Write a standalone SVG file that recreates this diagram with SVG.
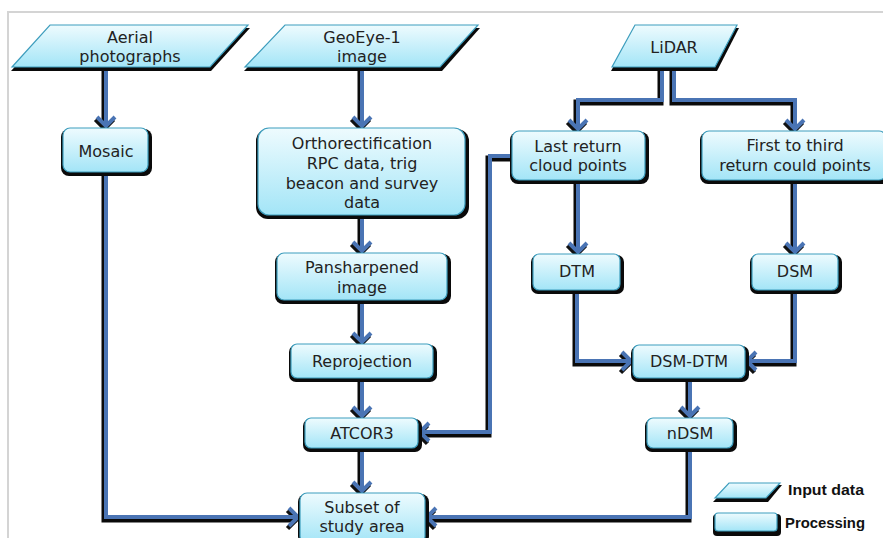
<svg xmlns="http://www.w3.org/2000/svg" width="883" height="538" viewBox="0 0 883 538">
<defs>
<linearGradient id="g" x1="0" y1="0" x2="0" y2="1">
<stop offset="0" stop-color="#eefbfe"/>
<stop offset="1" stop-color="#a3e5f7"/>
</linearGradient>
<marker id="ah" markerUnits="userSpaceOnUse" markerWidth="24" markerHeight="24" viewBox="-12 -12 24 24" refX="0" refY="0" orient="auto">
<path d="M-9,-9 L0,0 L-9,9" fill="none" stroke="#4a74b4" stroke-width="4" stroke-linejoin="miter"/>
</marker>
<marker id="ahs" markerUnits="userSpaceOnUse" markerWidth="24" markerHeight="24" viewBox="-12 -12 24 24" refX="0" refY="0" orient="auto">
<path d="M-9,-9 L0,0 L-9,9" fill="none" stroke="#111" stroke-width="4.5"/>
</marker>
</defs>
<style>
.sh{fill:#0a0a0a}
.nd{fill:url(#g);stroke:#3d9dbd;stroke-width:1.2}
text{font-family:"DejaVu Sans","Verdana",sans-serif;font-size:16px;fill:#222;text-anchor:middle}
.cs{fill:none;stroke:#0a0a0a;stroke-width:6;stroke-linejoin:miter}
.c{fill:none;stroke:#4a74b4;stroke-width:4;stroke-linejoin:miter}
.lg{font-family:"Liberation Sans",Arial,sans-serif;font-weight:bold;font-size:14px;text-anchor:start;fill:#111}
</style>
<rect x="0" y="0" width="883" height="538" fill="#fff"/>
<path d="M8,538 V12 H883" fill="none" stroke="#d4d4d4" stroke-width="2"/>

<g id="connectors">
<g transform="translate(-1.5,2.5)">
<path class="cs" d="M106,67 V126" marker-end="url(#ahs)"/>
<path class="cs" d="M362,67 V126" marker-end="url(#ahs)"/>
<path class="cs" d="M662,67 V100 H578 V129" marker-end="url(#ahs)"/>
<path class="cs" d="M674,67 V100 H795 V129" marker-end="url(#ahs)"/>
<path class="cs" d="M362,215 V251" marker-end="url(#ahs)"/>
<path class="cs" d="M362,300 V342" marker-end="url(#ahs)"/>
<path class="cs" d="M362,378 V416" marker-end="url(#ahs)"/>
<path class="cs" d="M362,448 V491" marker-end="url(#ahs)"/>
<path class="cs" d="M106,172 V517 H298" marker-end="url(#ahs)"/>
<path class="cs" d="M512,156 H490 V432 H420" marker-end="url(#ahs)"/>
<path class="cs" d="M578,180 V252" marker-end="url(#ahs)"/>
<path class="cs" d="M795,180 V252" marker-end="url(#ahs)"/>
<path class="cs" d="M577,290 V361 H631" marker-end="url(#ahs)"/>
<path class="cs" d="M795,290 V361 H747" marker-end="url(#ahs)"/>
<path class="cs" d="M690,378 V416" marker-end="url(#ahs)"/>
<path class="cs" d="M690,448 V517 H427" marker-end="url(#ahs)"/>
</g>
<path class="c" d="M106,67 V126" marker-end="url(#ah)"/>
<path class="c" d="M362,67 V126" marker-end="url(#ah)"/>
<path class="c" d="M662,67 V100 H578 V129" marker-end="url(#ah)"/>
<path class="c" d="M674,67 V100 H795 V129" marker-end="url(#ah)"/>
<path class="c" d="M362,215 V251" marker-end="url(#ah)"/>
<path class="c" d="M362,300 V342" marker-end="url(#ah)"/>
<path class="c" d="M362,378 V416" marker-end="url(#ah)"/>
<path class="c" d="M362,448 V491" marker-end="url(#ah)"/>
<path class="c" d="M106,172 V517 H298" marker-end="url(#ah)"/>
<path class="c" d="M512,156 H490 V432 H420" marker-end="url(#ah)"/>
<path class="c" d="M578,180 V252" marker-end="url(#ah)"/>
<path class="c" d="M795,180 V252" marker-end="url(#ah)"/>
<path class="c" d="M577,290 V361 H631" marker-end="url(#ah)"/>
<path class="c" d="M795,290 V361 H747" marker-end="url(#ah)"/>
<path class="c" d="M690,378 V416" marker-end="url(#ah)"/>
<path class="c" d="M690,448 V517 H427" marker-end="url(#ah)"/>
</g>

<g id="aerial">
<polygon class="sh" points="50,28 250,28 211,71 11,71"/>
<polygon class="nd" points="50,25 248,25 210,67 12,67"/>
<text x="130" y="43">Aerial</text>
<text x="130" y="62">photographs</text>
</g>
<g id="geoeye">
<polygon class="sh" points="285,28 480,28 442,71 244,71"/>
<polygon class="nd" points="285,25 478,25 440,67 245,67"/>
<text x="362" y="43">GeoEye-1</text>
<text x="362" y="62">image</text>
</g>
<g id="lidar">
<polygon class="sh" points="635,28 739,28 717,71 611,71"/>
<polygon class="nd" points="635,25 737,25 715,67 612,67"/>
<text x="674" y="53">LiDAR</text>
</g>

<g id="mosaic">
<rect class="sh" x="61" y="129" width="91" height="47" rx="8"/>
<rect class="nd" x="63" y="128" width="85" height="44" rx="7"/>
<text x="106" y="157">Mosaic</text>
</g>
<g id="ortho">
<rect class="sh" x="256" y="129" width="213" height="90" rx="12"/>
<rect class="nd" x="258" y="128" width="207" height="87" rx="11"/>
<text x="362" y="149">Orthorectification</text>
<text x="362" y="169">RPC data, trig</text>
<text x="362" y="189">beacon and survey</text>
<text x="362" y="208">data</text>
</g>
<g id="pansharpened">
<rect class="sh" x="275" y="254" width="176" height="50" rx="8"/>
<rect class="nd" x="277" y="253" width="170" height="47" rx="7"/>
<text x="362" y="273">Pansharpened</text>
<text x="362" y="293">image</text>
</g>
<g id="reprojection">
<rect class="sh" x="289" y="345" width="148" height="37" rx="7"/>
<rect class="nd" x="291" y="344" width="142" height="34" rx="6"/>
<text x="362" y="367">Reprojection</text>
</g>
<g id="atcor3">
<rect class="sh" x="303" y="419" width="119" height="33" rx="7"/>
<rect class="nd" x="305" y="418" width="113" height="30" rx="6"/>
<text x="362" y="439">ATCOR3</text>
</g>
<g id="subset">
<rect class="sh" x="298" y="494" width="131" height="50" rx="8"/>
<rect class="nd" x="300" y="493" width="125" height="50" rx="7"/>
<text x="362" y="513">Subset of</text>
<text x="362" y="532">study area</text>
</g>
<g id="lastreturn">
<rect class="sh" x="510" y="132" width="139" height="52" rx="8"/>
<rect class="nd" x="512" y="131" width="133" height="49" rx="7"/>
<text x="578" y="152">Last return</text>
<text x="578" y="171">cloud points</text>
</g>
<g id="firstthird">
<rect class="sh" x="700" y="132" width="190" height="52" rx="8"/>
<rect class="nd" x="702" y="131" width="184" height="49" rx="7"/>
<text x="795" y="151">First to third</text>
<text x="795" y="171">return could points</text>
</g>
<g id="dtm">
<rect class="sh" x="531" y="255" width="93" height="39" rx="7"/>
<rect class="nd" x="533" y="254" width="87" height="36" rx="6"/>
<text x="577" y="277">DTM</text>
</g>
<g id="dsm">
<rect class="sh" x="750" y="255" width="92" height="39" rx="7"/>
<rect class="nd" x="752" y="254" width="86" height="36" rx="6"/>
<text x="795" y="277">DSM</text>
</g>
<g id="dsmdtm">
<rect class="sh" x="631" y="346" width="118" height="36" rx="7"/>
<rect class="nd" x="633" y="345" width="112" height="33" rx="6"/>
<text x="689" y="367">DSM-DTM</text>
</g>
<g id="ndsm">
<rect class="sh" x="645" y="419" width="92" height="33" rx="7"/>
<rect class="nd" x="647" y="418" width="86" height="30" rx="6"/>
<text x="690" y="439">nDSM</text>
</g>

<g id="legend">
<polygon class="sh" points="729,485 782,485 768,502 713,502"/>
<polygon class="nd" points="729,483 780,483 766,498 715,498"/>
<text class="lg" x="788" y="495" textLength="76" lengthAdjust="spacingAndGlyphs">Input data</text>
<rect class="sh" x="713" y="514" width="68" height="22" rx="4"/>
<rect class="nd" x="715" y="513" width="62" height="18" rx="3"/>
<text class="lg" x="785" y="528" textLength="80" lengthAdjust="spacingAndGlyphs">Processing</text>
</g>
</svg>
